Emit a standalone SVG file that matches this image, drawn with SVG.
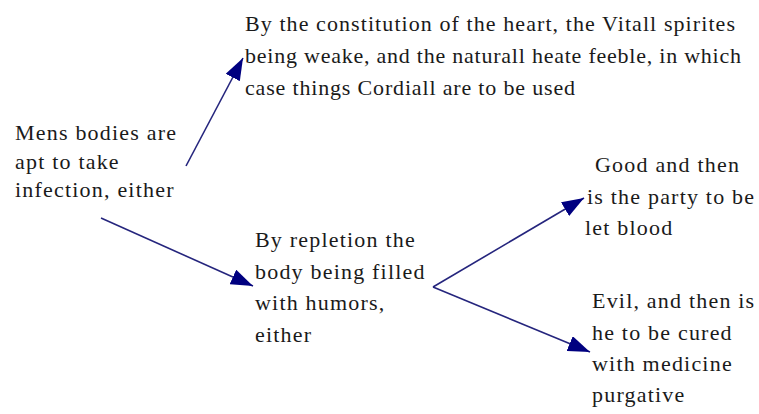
<svg xmlns="http://www.w3.org/2000/svg" width="759" height="414" viewBox="0 0 759 414">
<style>
  text { font-family: "Liberation Serif", "Times New Roman", serif; font-size: 22px; fill: #1a1a1a; letter-spacing: 1.2px; }
  .fit { letter-spacing: 0px; }
  .edge { stroke: #25257d; stroke-width: 1.6; fill: none; }
</style>
<defs>
  <marker id="arrow" markerUnits="userSpaceOnUse" markerWidth="22" markerHeight="16" refX="22" refY="8" orient="auto">
    <path d="M0,0 L22,8 L0,16 z" fill="#000080"/>
  </marker>
</defs>
<rect width="759" height="414" fill="#ffffff"/>
<g id="connectors">
  <line class="edge" x1="186" y1="166" x2="243" y2="58" marker-end="url(#arrow)"/>
  <line class="edge" x1="101" y1="218" x2="253" y2="286" marker-end="url(#arrow)"/>
  <line class="edge" x1="433" y1="287" x2="584" y2="198" marker-end="url(#arrow)"/>
  <line class="edge" x1="433" y1="287" x2="590" y2="352" marker-end="url(#arrow)"/>
</g>
<g id="node-root">
  <text x="15" y="140">Mens bodies are</text>
  <text x="15" y="168.5">apt to take</text>
  <text x="15" y="197">infection, either</text>
</g>
<g id="node-heart">
  <text class="fit" x="245" y="31" textLength="490" lengthAdjust="spacing">By the constitution of the heart, the Vitall spirites</text>
  <text class="fit" x="245" y="63" textLength="496" lengthAdjust="spacing">being weake, and the naturall heate feeble, in which</text>
  <text class="fit" x="245" y="95" textLength="330" lengthAdjust="spacing">case things Cordiall are to be used</text>
</g>
<g id="node-repletion">
  <text x="255" y="247">By repletion the</text>
  <text x="255" y="278.5">body being filled</text>
  <text x="255" y="310">with humors,</text>
  <text x="255" y="342">either</text>
</g>
<g id="node-good">
  <text x="595" y="171.5">Good and then</text>
  <text x="587" y="203.5">is the party to be</text>
  <text x="585" y="235">let blood</text>
</g>
<g id="node-evil">
  <text x="592" y="308">Evil, and then is</text>
  <text x="592" y="340">he to be cured</text>
  <text x="592" y="371">with medicine</text>
  <text x="592" y="402">purgative</text>
</g>
</svg>
